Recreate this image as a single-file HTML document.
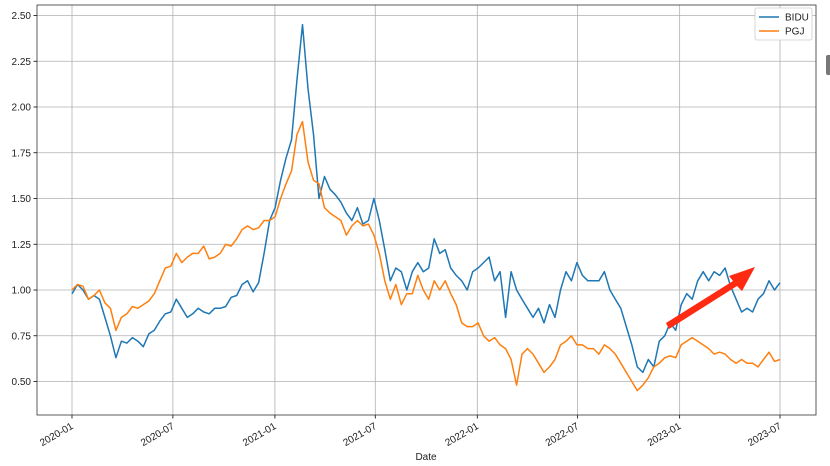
<!DOCTYPE html>
<html><head><meta charset="utf-8"><style>
html,body{margin:0;padding:0;background:#fff;}
svg{display:block;font-family:"Liberation Sans","DejaVu Sans",sans-serif;}
</style></head><body>
<svg id="chart" width="830" height="466" viewBox="0 0 830 466">
<rect x="826" y="55" width="6" height="20" rx="2" fill="#777"/>
</svg>
<script>
const yTicks=[0.50,0.75,1.00,1.25,1.50,1.75,2.00,2.25,2.50];
const xTickLabels=["2020-01","2020-07","2021-01","2021-07","2022-01","2022-07","2023-01","2023-07"];
const xTickDates=["2020-01-01","2020-07-01","2021-01-01","2021-07-01","2022-01-01","2022-07-01","2023-01-01","2023-07-01"];
const seriesNames=["BIDU","PGJ"];
const startDate="2020-01-01", endDate="2023-07-01";
const bidu=[0.98,1.03,1.0,0.95,0.97,0.95,0.85,0.75,0.63,0.72,0.71,0.74,0.72,0.69,0.76,0.78,0.83,0.87,0.88,0.95,0.90,0.85,0.87,0.9,0.88,0.87,0.9,0.9,0.91,0.96,0.97,1.03,1.05,0.99,1.04,1.2,1.38,
1.45,1.6,1.72,1.82,2.15,2.45,2.1,1.85,1.5,1.62,1.55,1.52,1.48,1.42,1.38,1.45,1.36,1.38,1.5,1.38,1.22,
1.05,1.12,1.1,1.0,1.1,1.15,1.1,1.12,1.28,1.2,1.22,1.12,1.08,1.05,1.0,1.1,1.12,1.15,1.18,1.05,1.1,0.85,1.1,1.0,0.95,0.9,0.85,0.9,0.82,0.92,0.85,1.0,1.1,1.05,1.15,1.08,1.05,1.05,1.05,1.1,1.0,0.95,0.9,0.8,
0.7,0.58,0.55,0.62,0.58,0.72,0.75,0.82,0.78,0.92,0.98,0.95,1.05,1.1,1.05,1.1,1.08,1.12,1.02,0.95,0.88,0.9,0.88,0.95,0.98,1.05,1.0,1.04];
const pgj=[1.0,1.03,1.02,0.95,0.97,1.0,0.93,0.9,0.78,0.85,0.87,0.91,0.9,0.92,0.94,0.98,1.05,1.12,1.13,1.2,1.15,1.18,1.2,1.2,1.24,1.17,1.18,1.2,1.25,1.24,1.28,1.33,1.35,1.33,1.34,1.38,1.38,
1.4,1.5,1.58,1.65,1.85,1.92,1.7,1.6,1.58,1.45,1.42,1.4,1.38,1.3,1.35,1.38,1.35,1.36,1.3,1.2,1.05,
0.95,1.03,0.92,0.98,0.98,1.08,1.0,0.95,1.05,1.0,1.05,0.98,0.92,0.82,0.8,0.8,0.82,0.75,0.72,0.74,0.7,0.68,0.62,0.48,0.65,0.68,0.65,0.6,0.55,0.58,0.62,0.7,0.72,0.75,0.7,0.7,0.68,0.68,0.65,0.7,0.68,0.65,0.6,0.55,
0.5,0.45,0.48,0.52,0.58,0.6,0.63,0.64,0.63,0.7,0.72,0.74,0.72,0.7,0.68,0.65,0.66,0.65,0.62,0.6,0.62,0.6,0.6,0.58,0.62,0.66,0.61,0.62];
const colors=["#1f77b4","#ff7f0e"];
const NS="http://www.w3.org/2000/svg";
const svg=document.getElementById("chart");
const L=37,R=816,T=5,B=415;
const d0=Date.parse(startDate), d1=Date.parse(endDate);
const X0=72,X1=780;
function xDay(ms){return X0+(ms-d0)/(d1-d0)*(X1-X0);}
function yVal(v){return 290-(v-1)*183;}
function mk(tag,attrs,parent){const e=document.createElementNS(NS,tag);for(const k in attrs)e.setAttribute(k,attrs[k]);(parent||svg).appendChild(e);return e;}
// grid
yTicks.forEach(v=>{const y=yVal(v);
 const g=mk("line",{x1:L,x2:R,y1:y,y2:y,stroke:"#b0b0b0","stroke-width":0.8});
 
 
 mk("line",{x1:L-3.5,x2:L,y1:y,y2:y,stroke:"#000","stroke-width":0.8});
 const t=mk("text",{x:L-6,y:y+3.5,"text-anchor":"end","font-size":"10",fill:"#222"});
 t.textContent=v.toFixed(2);
 
 
});
xTickDates.forEach((d,i)=>{const x=xDay(Date.parse(d));
 const g=mk("line",{x1:x,x2:x,y1:T,y2:B,stroke:"#b0b0b0","stroke-width":0.8});
 
 
 mk("line",{x1:x,x2:x,y1:B,y2:B+3.5,stroke:"#000","stroke-width":0.8});
 const t=mk("text",{x:x+2,y:B+13,"text-anchor":"end","font-size":"10",fill:"#222",transform:`rotate(-30 ${x+2} ${B+13})`});
 t.textContent=xTickLabels[i];
 
 
});
// series
[bidu,pgj].forEach((arr,s)=>{
 const n=arr.length;
 const pts=arr.map((v,i)=>xDay(d0+(d1-d0)*i/(n-1)).toFixed(1)+","+yVal(v).toFixed(1)).join(" ");
 const p=mk("polyline",{points:pts,fill:"none",stroke:colors[s],"stroke-width":1.5,"stroke-linejoin":"round"});
 
 
});
// frame
const fr=mk("rect",{x:L,y:T,width:R-L,height:B-T,fill:"none",stroke:"#333","stroke-width":0.8});


// arrow
const ar=mk("polygon",{points:"666,323 733,281 729,276 755,267 742,291 737,286 669,329",fill:"#fe2b12"});


// legend
const lg=mk("g",{});


mk("rect",{x:755,y:8,width:57,height:32,rx:2,fill:"#fff",stroke:"#ccc","stroke-width":0.8},lg);
seriesNames.forEach((nm,i)=>{const y=17+i*14;
 const ln=mk("line",{x1:759,x2:779,y1:y,y2:y,stroke:colors[i],"stroke-width":1.5},lg);
 
 
 const t=mk("text",{x:785,y:y+3.5,"font-size":"10",fill:"#222"},lg);
 t.textContent=nm;
 
 
});
const xl=mk("text",{x:426,y:460,"text-anchor":"middle","font-size":"10",fill:"#222"});
xl.textContent="Date";


</script>
</body></html>
